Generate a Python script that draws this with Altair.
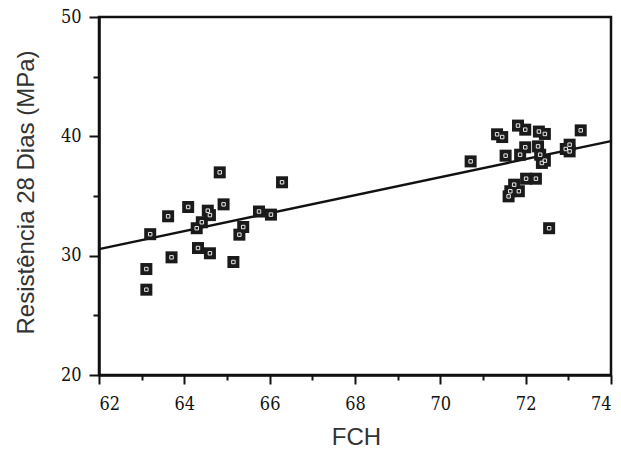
import altair as alt
import pandas as pd

fch = [63.11, 63.11, 63.2, 63.62, 63.7, 64.09, 64.29, 64.32, 64.41, 64.55, 64.6, 64.6,
       64.83, 64.92, 65.15, 65.29, 65.38, 65.75, 66.03, 66.29,
       70.71, 71.33, 71.45, 71.53, 71.6, 71.64, 71.73, 71.82, 71.84, 71.87, 71.99, 71.99,
       72.01, 72.24, 72.29, 72.31, 72.34, 72.38, 72.45, 72.45, 72.55, 72.94, 73.03, 73.03, 73.29]
resist = [28.88, 27.15, 31.8, 33.3, 29.86, 34.08, 32.3, 30.64, 32.8, 33.77, 33.4, 30.2,
          36.98, 34.3, 29.47, 31.76, 32.4, 33.7, 33.44, 36.15,
          37.9, 40.17, 39.94, 38.38, 34.97, 35.4, 35.95, 40.9, 35.4, 38.46, 40.56, 39.08,
          36.45, 36.45, 39.16, 40.4, 38.46, 37.77, 40.2, 37.96, 32.3, 38.94, 39.3, 38.74, 40.5]

line_x = [62, 74]
line_y = [30.55, 39.6]

pts = pd.DataFrame({"FCH": fch, "R": resist})
ln = pd.DataFrame({"FCH": line_x, "R": line_y})

xs = alt.Scale(domain=[62, 74], nice=False, zero=False)
ys = alt.Scale(domain=[20, 50], nice=False, zero=False)

xaxis = alt.Axis(
    values=list(range(62, 75)),
    labelExpr="datum.value % 2 === 0 ? datum.label : ''",
    tickSize={"condition": {"test": "datum.value % 2 === 0", "value": 9}, "value": 5},
    labelPadding=11,
    grid=False,
    title="FCH",
    titleX=257, titleY=69, titleBaseline="alphabetic",
)
yaxis = alt.Axis(
    values=[20, 25, 30, 35, 40, 45, 50],
    labelExpr="datum.value % 10 === 0 ? datum.label : ''",
    tickSize={"condition": {"test": "datum.value % 10 === 0", "value": 10}, "value": 6},
    labelPadding=8,
    grid=False,
    title="Resistência 28 Dias (MPa)",
    titleX=-66, titleY=175, titleAngle=-90, titleAlign="center", titleBaseline="alphabetic",
)

line = alt.Chart(ln).mark_line(color="#111111", strokeWidth=2.5).encode(
    x=alt.X("FCH:Q", scale=xs, axis=xaxis),
    y=alt.Y("R:Q", scale=ys, axis=yaxis),
)

outer = alt.Chart(pts).mark_point(shape="square", filled=True, color="#1a1a1a", size=144, opacity=1).encode(
    x=alt.X("FCH:Q", scale=xs),
    y=alt.Y("R:Q", scale=ys),
)
inner = alt.Chart(pts).mark_point(shape="square", filled=False, color="#e8e8e8", size=12, strokeWidth=1, opacity=1).encode(
    x=alt.X("FCH:Q", scale=xs),
    y=alt.Y("R:Q", scale=ys),
)

chart = alt.layer(line, outer, inner).properties(
    width=512, height=358,
    padding={"left": 99, "top": 17, "right": 10, "bottom": 74},
    autosize=alt.AutoSizeParams(type="none"),
    background="white",
).configure_view(
    stroke="#111111", strokeWidth=2.5,
).configure_axis(
    domainColor="#111111", domainWidth=2.5,
    tickColor="#111111", tickWidth=2,
    labelFont="DejaVu Serif Condensed", labelFontSize=18, labelColor="#111111",
    titleFont="Liberation Sans", titleFontSize=24, titleFontWeight="normal", titleColor="#333333",
)

chart.save("out.html", embed_options={"renderer": "svg", "actions": False})
